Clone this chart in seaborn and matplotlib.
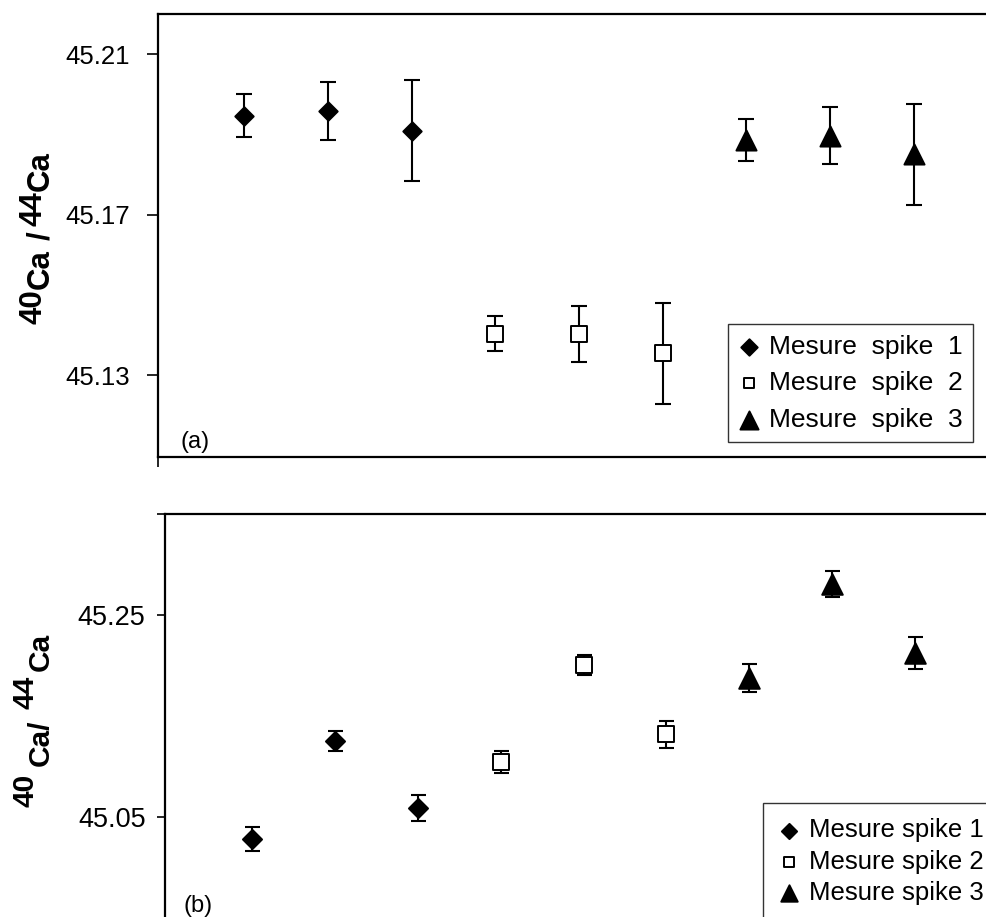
import numpy as np
import pandas as pd
import matplotlib
matplotlib.use('Agg')
import matplotlib.pyplot as plt
import seaborn as sns

# one point per measurement, three measurements per spike
x_pos = [1, 2, 3, 4, 5, 6, 7, 8, 9]
series = ['Mesure spike 1', 'Mesure spike 2', 'Mesure spike 3']

# panel (a)
a_ratio = [45.1947, 45.1958, 45.1909,
           45.1403, 45.1402, 45.1354,
           45.1886, 45.1897, 45.1850]
a_err = [0.0054, 0.0072, 0.0126,
         0.0044, 0.0070, 0.0126,
         0.0052, 0.0071, 0.0126]
a_labels = ['Mesure  spike  1', 'Mesure  spike  2', 'Mesure  spike  3']

# panel (b)
b_ratio = [45.0282, 45.1252, 45.0589,
           45.1045, 45.2005, 45.1317,
           45.1876, 45.2807, 45.2124]
b_err = [0.0119, 0.0099, 0.0129,
         0.0109, 0.0099, 0.0134,
         0.0139, 0.0129, 0.0158]
b_labels = ['Mesure spike 1', 'Mesure spike 2', 'Mesure spike 3']

a_yticks = [45.13, 45.17, 45.21]
b_yticks = [45.05, 45.25, 45.35]
b_yticklabels = ['45.05', '45.25', '']

sns.set_style('ticks')
plt.rcParams['font.family'] = ['Liberation Sans', 'DejaVu Sans']
plt.rcParams['text.color'] = 'black'
plt.rcParams['xtick.color'] = 'black'
plt.rcParams['ytick.color'] = 'black'
plt.rcParams['axes.labelcolor'] = 'black'

markers = ['D', 's', '^']
faces = ['black', 'white', 'black']


def make_df(ratio, err):
    return pd.DataFrame({
        'x': x_pos,
        'ratio': ratio,
        'err': err,
        'serie': [s for s in series for _ in range(3)],
    })


def draw_panel(ax, df, sizes, capsize):
    for name, mk, face, size in zip(series, markers, faces, sizes):
        d = df[df.serie == name]
        ax.errorbar(d.x, d.ratio, yerr=d.err, fmt='none', ecolor='black',
                    elinewidth=1.5, capsize=capsize, capthick=1.5,
                    zorder=2, label='_nolegend_')
        sns.scatterplot(data=d, x='x', y='ratio', marker=mk, color=face,
                        edgecolor='black', linewidth=1.4, s=size, ax=ax,
                        zorder=3, label=name, legend=False)
    ax.set_xlabel('')
    ax.set_ylabel('')
    for side in ['left', 'top', 'bottom']:
        ax.spines[side].set_linewidth(1.6)
        ax.spines[side].set_color('black')
    ax.spines['right'].set_visible(False)


def stacked_label(ax, x0, y0, parts, size=21.5):
    # parts: (text, raise in px, gap before in px)
    prev = None
    prev_r = 0
    for txt, r, gap in parts:
        kw = dict(rotation=90, ha='left', va='bottom', fontsize=size,
                  fontweight='bold', annotation_clip=False,
                  textcoords='offset pixels', color='black')
        if prev is None:
            prev = ax.annotate(txt, xy=(x0, y0), xycoords='figure pixels',
                               xytext=(-r, 0), **kw)
        else:
            prev = ax.annotate(txt, xy=(0, 1), xycoords=prev,
                               xytext=(prev_r - r, gap), **kw)
        prev_r = r


fig = plt.figure(figsize=(9.86, 9.17), dpi=100)

# ---- (a)
ax1 = fig.add_axes([158 / 986, 460 / 917, 828 / 986, 443 / 917])
draw_panel(ax1, make_df(a_ratio, a_err), [88, 120, 210], 6)
ax1.set_xlim(-0.027, 9.86)
ax1.set_ylim(45.1096, 45.22)
ax1.set_yticks(a_yticks)
ax1.set_yticklabels([f'{v:.2f}' for v in a_yticks])
ax1.set_xticks([-0.027])
ax1.set_xticklabels([''])
ax1.tick_params(axis='y', direction='out', length=8, width=1.2, pad=12,
                labelsize=18.5)
ax1.tick_params(axis='x', direction='out', length=7, width=1.2)
ax1.text(0.027, 0.008, '(a)', transform=ax1.transAxes, fontsize=17,
         ha='left', va='bottom')

h, _ = ax1.get_legend_handles_labels()
leg1 = ax1.legend(h, a_labels, loc='upper left',
                  bbox_to_anchor=(728 / 986, 1 - 324 / 917),
                  bbox_transform=fig.transFigure, borderaxespad=0,
                  frameon=True, fancybox=False, framealpha=1,
                  edgecolor='#333333', fontsize=19, handlelength=0.8,
                  handletextpad=0.35, labelspacing=0.48, borderpad=0.4)
leg1.get_frame().set_linewidth(1.0)
for hd, s in zip(leg1.legend_handles, [70, 55, 170]):
    hd.set_sizes([s])

stacked_label(ax1, 26, 917 - 324,
              [('40', 7, 0), ('Ca', 0, 0), ('/', 0, 9), ('44', 7, 6),
               ('Ca', 0, 0)], size=22.5)

# ---- (b)
ax2 = fig.add_axes([165 / 986, 0, 821 / 986, 403 / 917])
draw_panel(ax2, make_df(b_ratio, b_err), [95, 125, 220], 5.4)
ax2.spines['bottom'].set_visible(False)
ax2.set_xlim(-0.049, 9.855)
ax2.set_ylim(44.951, 45.35)
ax2.set_yticks(b_yticks)
ax2.set_yticklabels(b_yticklabels)
ax2.set_xticks([])
ax2.tick_params(axis='y', direction='out', length=6, width=1.2, pad=8,
                labelsize=19.5)
ax2.text(0.022, 0.055, '(b)', transform=ax2.transAxes, fontsize=17,
         ha='left', va='top')

h, _ = ax2.get_legend_handles_labels()
leg2 = ax2.legend(h, b_labels, loc='upper left',
                  bbox_to_anchor=(763 / 986, 1 - 803 / 917),
                  bbox_transform=fig.transFigure, borderaxespad=0,
                  frameon=True, fancybox=False, framealpha=1,
                  edgecolor='#333333', fontsize=18.5, handlelength=0.8,
                  handletextpad=0.4, labelspacing=0.28, borderpad=0.6)
leg2.get_frame().set_linewidth(1.0)
for hd, s in zip(leg2.legend_handles, [60, 50, 140]):
    hd.set_sizes([s])

stacked_label(ax2, 27, 917 - 807,
              [('40', 15, 0), ('Ca/', 0, 8), ('44', 15, 10), ('Ca', 0, 5)])

fig.savefig('out.png', dpi=100)
